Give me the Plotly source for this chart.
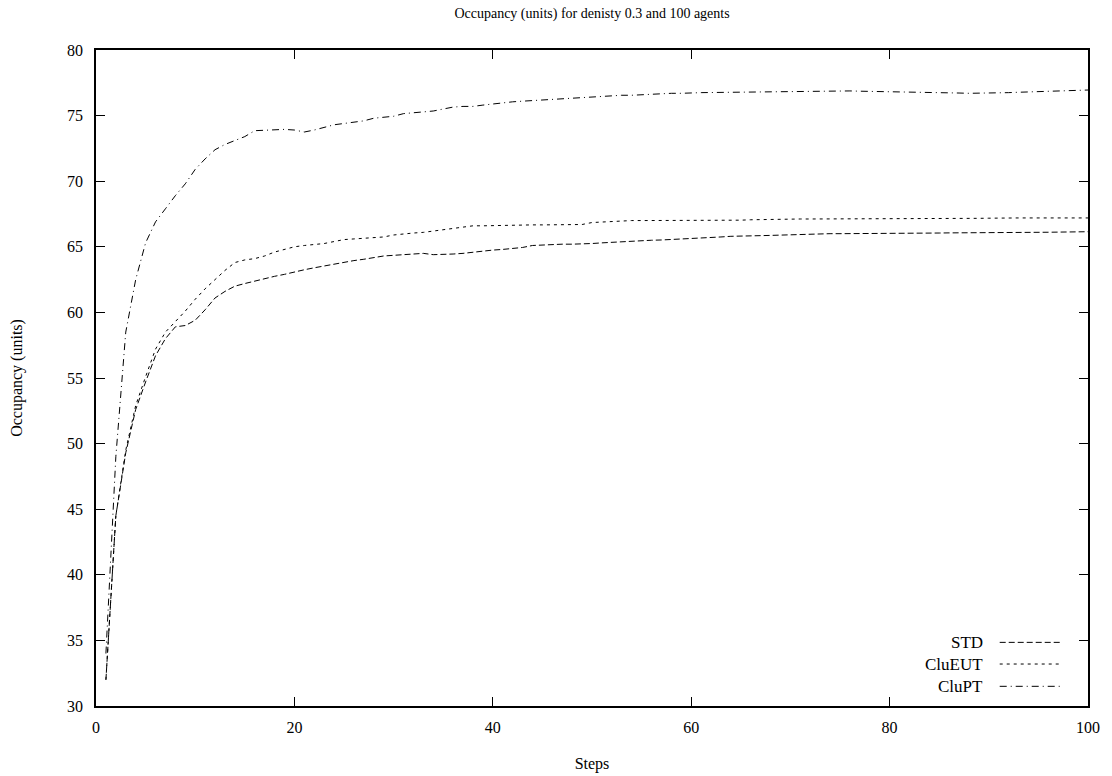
import plotly.graph_objects as go

steps = list(range(1, 101))

std = [32.0, 44.5, 49.3, 52.6, 54.7, 56.7, 58.0, 58.9, 59.0, 59.4,
       60.2, 61.1, 61.6, 62.0, 62.2, 62.4, 62.55, 62.75, 62.9, 63.1,
       63.25, 63.4, 63.55, 63.7, 63.85, 63.95, 64.05, 64.2, 64.3, 64.35,
       64.4, 64.45, 64.5, 64.4, 64.4, 64.45, 64.5, 64.6, 64.7, 64.75,
       64.8, 64.85, 64.95, 65.1, 65.15, 65.15, 65.2, 65.2, 65.2, 65.25,
       65.3, 65.35, 65.4, 65.45, 65.5, 65.5, 65.52, 65.55, 65.6, 65.62,
       65.65, 65.7, 65.75, 65.8, 65.8, 65.82, 65.85, 65.87, 65.9, 65.9,
       65.92, 65.95, 65.97, 66.0, 66.0, 66.0, 66.0, 66.0, 66.01, 66.02,
       66.02, 66.03, 66.03, 66.04, 66.05, 66.06, 66.06, 66.07, 66.07, 66.08,
       66.08, 66.09, 66.09, 66.1, 66.1, 66.11, 66.12, 66.13, 66.14, 66.15]

clueut = [32.0, 44.5, 49.5, 52.9, 55.1, 57.2, 58.5, 59.3, 60.1, 61.0,
          61.8, 62.5, 63.2, 63.8, 64.0, 64.1, 64.3, 64.6, 64.8, 65.0,
          65.1, 65.15, 65.25, 65.4, 65.55, 65.6, 65.65, 65.7, 65.75, 65.9,
          66.0, 66.05, 66.1, 66.2, 66.3, 66.45, 66.55, 66.6, 66.6, 66.62,
          66.65, 66.66, 66.66, 66.67, 66.67, 66.68, 66.68, 66.69, 66.7, 66.85,
          66.9, 66.95, 66.95, 67.0, 67.0, 67.0, 67.0, 67.0, 67.0, 67.0,
          67.02, 67.02, 67.02, 67.03, 67.03, 67.06, 67.08, 67.1, 67.1, 67.12,
          67.12, 67.12, 67.12, 67.12, 67.12, 67.12, 67.12, 67.12, 67.12, 67.12,
          67.12, 67.12, 67.12, 67.12, 67.12, 67.15, 67.15, 67.16, 67.17, 67.18,
          67.2, 67.2, 67.2, 67.2, 67.2, 67.2, 67.2, 67.2, 67.2, 67.2]

clupt = [34.0, 49.0, 58.5, 62.5, 65.3, 66.9, 67.9, 68.9, 69.8, 70.9,
         71.7, 72.4, 72.8, 73.1, 73.4, 73.85, 73.9, 73.9, 73.95, 73.9,
         73.75, 73.9, 74.1, 74.3, 74.4, 74.5, 74.6, 74.8, 74.85, 74.95,
         75.15, 75.2, 75.3, 75.35, 75.5, 75.65, 75.7, 75.7, 75.8, 75.9,
         76.0, 76.05, 76.1, 76.15, 76.2, 76.2, 76.25, 76.3, 76.35, 76.4,
         76.45, 76.5, 76.55, 76.55, 76.6, 76.6, 76.65, 76.7, 76.7, 76.75,
         76.75, 76.76, 76.77, 76.78, 76.78, 76.79, 76.8, 76.8, 76.82, 76.84,
         76.85, 76.86, 76.88, 76.9, 76.9, 76.88, 76.86, 76.85, 76.84, 76.82,
         76.8, 76.8, 76.8, 76.8, 76.78, 76.76, 76.72, 76.7, 76.7, 76.7,
         76.72, 76.75, 76.78, 76.8, 76.85, 76.87, 76.9, 76.92, 76.94, 76.95]

series_names = ["STD", "CluEUT", "CluPT"]
series_values = [std, clueut, clupt]
series_dash = ["6px,3px", "3px,4px", "7px,4px,1px,4px"]

x_ticks = [0, 20, 40, 60, 80, 100]
y_ticks = [30, 35, 40, 45, 50, 55, 60, 65, 70, 75, 80]

FONT = "Liberation Serif"

fig = go.Figure()
for name, vals, dash in zip(series_names, series_values, series_dash):
    fig.add_trace(go.Scatter(x=steps, y=vals, mode="lines", name=name,
                             line=dict(color="black", width=1, dash=dash),
                             showlegend=False))

# custom gnuplot-style legend (text left of sample)
leg_y = [0.097, 0.064, 0.030]
for name, dash, yy in zip(series_names, series_dash, leg_y):
    fig.add_annotation(x=0.896, y=yy, xref="paper", yref="paper", text=name,
                       showarrow=False, xanchor="right", yanchor="middle",
                       font=dict(family=FONT, size=17, color="black"))
    fig.add_shape(type="line", xref="paper", yref="paper",
                  x0=0.911, x1=0.974, y0=yy, y1=yy,
                  line=dict(color="black", width=1, dash=dash))

axis_common = dict(showline=True, linecolor="black", linewidth=1.5, mirror="ticks",
                   ticks="inside", ticklen=9, tickwidth=1, tickcolor="black",
                   showgrid=False, zeroline=False, automargin=False,
                   tickfont=dict(family=FONT, size=16, color="black"))

fig.update_layout(
    width=1112, height=776,
    margin=dict(l=96, r=24, t=50, b=70),
    paper_bgcolor="white", plot_bgcolor="white",
    title=dict(text="Occupancy (units) for denisty 0.3 and 100 agents",
               x=0.5324, xanchor="center", y=0.983, yanchor="middle",
               font=dict(family=FONT, size=14, color="black")),
    xaxis=dict(range=[0, 100], tickvals=x_ticks, ticklabelstandoff=6,
               title=dict(text="Steps", font=dict(family=FONT, size=16, color="black"),
                          standoff=23),
               **axis_common),
    yaxis=dict(range=[30, 80], tickvals=y_ticks, ticklabelstandoff=8,
               title=dict(text="Occupancy (units)",
                          font=dict(family=FONT, size=16, color="black"),
                          standoff=40),
               **axis_common),
)

fig.write_html("out.html")
